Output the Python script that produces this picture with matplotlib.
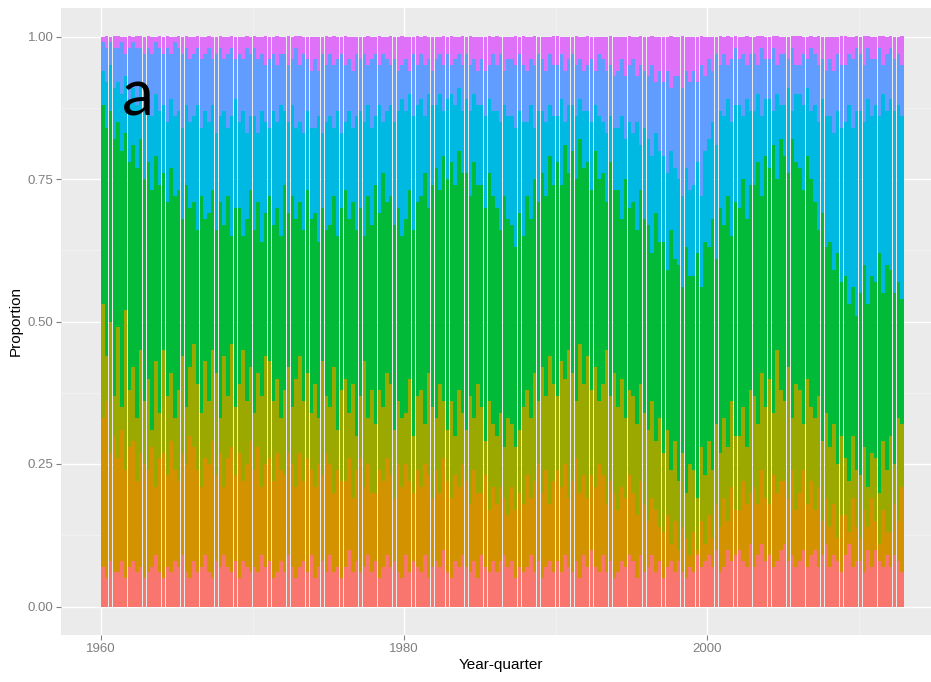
import numpy as np
import matplotlib
matplotlib.use("Agg")
import matplotlib.pyplot as plt
from matplotlib.ticker import FixedLocator

# ---------------- data (cumulative boundaries, percent; one line per year, Q1..Q4) ----------------
first_year = 1960
last_year = 2012

salmon_top = [
    7,5,8,6, 6,8,5,7, 8,6,7,5, 6,7,9,6, 5,7,6,8, 7,9,6,5, 8,6,7,9, 6,5,8,7, 9,7,6,8, 5,8,7,6,
    7,6,9,7, 8,5,6,8, 6,9,7,5, 7,8,6,9, 5,7,8,6, 9,6,7,5, 7,10,6,8, 6,7,9,6, 8,5,7,9, 7,8,6,5,
    9,6,8,7, 6,9,5,7, 8,7,10,6, 5,8,7,9, 7,6,8,5, 9,7,6,8, 6,8,9,7, 8,5,7,6, 7,9,6,8, 5,7,8,6,
    8,6,9,7, 6,8,5,9, 7,10,7,6, 9,6,8,5, 6,8,7,9, 8,5,9,6, 7,9,6,8, 5,7,8,6, 8,6,5,7, 6,9,7,8,
    9,7,10,6, 7,10,8,9, 10,8,7,11, 7,9,11,8, 9,7,8,10, 11,8,9,7, 8,10,7,9, 10,7,9,11, 7,9,8,6,
    9,11,7,8, 8,6,10,7, 10,8,7,9, 7,9,8,6,
]
orange_top = [
    33,36,27,30, 26,31,24,28, 29,22,27,25, 24,28,21,26, 27,23,29,24, 22,27,25,30, 28,24,21,26,
    25,29,23,27, 21,26,28,23, 27,22,25,29, 24,28,21,25, 26,22,27,24, 23,27,25,21, 27,22,26,24,
    21,25,23,27, 25,20,24,22, 22,26,19,24, 26,21,25,20, 20,24,22,26, 23,19,25,21, 25,22,20,24,
    21,25,23,19, 24,20,26,22, 19,23,21,25, 22,18,24,20, 20,23,17,21, 18,21,19,16, 21,17,20,18,
    23,19,22,25, 20,24,18,22, 24,21,25,19, 22,26,20,23, 19,23,21,25, 23,18,22,20, 17,21,19,23,
    20,16,22,18, 15,19,17,14, 13,16,11,15, 10,14,12,9, 13,10,15,11, 16,12,18,14, 19,15,21,17,
    17,22,18,20, 21,18,24,19, 18,23,20,22, 22,19,24,17, 20,24,18,22, 17,21,15,19, 14,18,12,16,
    16,13,19,14, 12,17,14,19, 15,11,17,13, 13,18,15,21,
]
olive_top = [
    53,44,50,37, 49,35,52,38, 42,33,45,36, 40,31,43,34, 45,37,41,33, 38,44,35,42, 46,39,34,43,
    36,45,41,33, 44,37,46,35, 39,45,36,42, 34,41,37,44, 43,36,40,33, 38,42,35,40, 44,36,41,34,
    39,33,43,37, 35,42,31,38, 40,34,39,30, 37,43,33,38, 32,38,35,41, 39,31,36,33, 34,40,30,37,
    38,32,41,35, 33,39,36,31, 36,30,38,34, 31,37,33,39, 35,29,36,32, 30,34,28,33, 32,28,31,35,
    38,33,41,36, 42,37,44,39, 37,43,40,45, 41,36,46,39, 44,38,42,36, 39,45,37,41, 35,40,33,38,
    37,32,39,34, 31,36,29,33, 27,31,24,29, 22,27,20,25, 24,19,28,23, 29,24,32,27, 33,28,36,30,
    30,35,28,38, 37,32,41,35, 40,34,45,38, 36,42,33,39, 38,32,40,35, 33,37,29,34, 28,32,25,30,
    26,22,30,24, 23,28,21,27, 26,20,29,24, 30,25,33,32,
]
green_top = [
    88,84,87,82, 85,80,83,78, 81,77,82,75, 78,73,79,74, 76,71,77,72, 73,68,74,70, 71,66,72,68,
    69,73,66,71, 67,72,65,70, 70,65,68,73, 66,71,64,69, 72,67,70,65, 74,69,72,68, 71,66,73,68,
    69,64,70,66, 67,72,65,70, 73,68,71,66, 70,65,72,67, 74,69,76,71, 72,67,70,65, 68,73,66,71,
    72,76,70,74, 77,73,79,75, 78,74,80,76, 76,72,78,74, 74,70,76,72, 70,66,72,68, 67,63,69,65,
    72,68,75,71, 76,72,79,74, 78,74,81,76, 80,75,82,77, 78,73,80,75, 76,71,78,73, 73,68,75,70,
    71,66,73,68, 67,62,69,64, 64,59,66,61, 60,56,63,58, 58,62,56,64, 63,68,61,70, 67,72,65,71,
    70,75,68,74, 74,78,72,79, 77,81,75,82, 79,76,82,78, 77,73,79,75, 71,66,69,63, 64,59,62,57,
    58,53,56,51, 55,60,53,58, 57,62,55,60, 59,55,57,54,
]
cyan_top = [
    94,92,95,91, 92,90,93,89, 91,88,92,87, 89,86,90,87, 88,85,89,86, 87,84,88,85, 86,88,84,87,
    85,88,83,86, 87,84,86,89, 85,87,83,86, 86,83,87,85, 84,87,85,88, 87,85,88,84, 85,83,87,84,
    84,86,83,85, 86,84,87,83, 85,87,84,86, 87,85,88,84, 86,88,85,87, 88,85,87,89, 87,90,86,88,
    89,86,90,88, 88,90,87,89, 90,88,91,87, 89,87,90,88, 88,86,89,87, 87,85,88,86, 86,84,87,85,
    85,88,84,87, 87,85,88,86, 86,89,85,88, 88,86,89,87, 87,85,88,86, 85,83,86,84, 84,86,82,85,
    83,85,81,84, 82,79,83,80, 79,76,80,77, 75,72,77,73, 74,78,72,80, 82,85,81,87, 86,89,85,88,
    88,86,89,87, 87,90,86,89, 89,87,90,88, 88,91,87,90, 90,88,91,87, 88,85,89,86, 86,83,87,84,
    85,88,84,87, 87,85,89,86, 88,86,90,87, 89,87,88,86,
]
blue_top = [
    99,98,99,98, 98,99,97,98, 99,98,98,97, 98,97,99,98, 97,98,97,99, 98,97,98,96, 97,98,96,97,
    98,96,97,98, 96,97,98,96, 97,96,98,97, 98,96,97,95, 96,97,95,97, 97,95,96,98, 95,97,96,94,
    96,94,97,95, 97,95,96,97, 95,96,94,97, 96,97,95,96, 97,95,97,96, 95,96,94,95, 96,94,97,95,
    97,95,96,94, 96,97,95,97, 95,96,97,95, 97,95,96,94, 96,94,95,97, 95,97,94,96, 96,95,97,95,
    94,96,95,97, 96,94,97,95, 95,97,94,96, 97,95,96,94, 95,96,94,97, 96,94,95,93, 94,96,93,95,
    96,93,95,94, 93,95,92,94, 92,94,91,93, 93,91,94,92, 94,92,95,93, 96,94,97,95, 97,95,96,98,
    96,97,95,97, 97,95,98,96, 96,98,95,97, 97,96,98,95, 95,97,96,98, 97,95,96,94, 96,94,97,95,
    95,97,96,98, 97,95,98,96, 96,98,95,97, 98,96,97,95,
]
magenta_top = [100] * len(blue_top)

colors = ["#F8766D", "#D39200", "#9AA800", "#00BA38", "#00B9E3", "#619CFF", "#DF70F8"]

# ---------------- figure ----------------
W, H, DPI = 931, 682, 100
fig = plt.figure(figsize=(W / DPI, H / DPI), dpi=DPI)
fig.patch.set_facecolor("white")

px_left, px_right, px_top, px_bottom = 61, 944, 8, 635
ax = fig.add_axes([px_left / W, 1 - px_bottom / H, (px_right - px_left) / W, (px_bottom - px_top) / H])
ax.set_facecolor("#EBEBEB")

n = len(salmon_top)
quarters = [f"{first_year + i // 4} Q{i % 4 + 1}" for i in range(n)]
x = np.array([int(q[:4]) + (int(q[-1]) - 1) * 0.25 + 0.125 for q in quarters])

layers = [salmon_top, orange_top, olive_top, green_top, cyan_top, blue_top, magenta_top]
prev = np.zeros(n)
for vals, c in zip(layers, colors):
    top = np.array(vals) / 100.0
    ax.bar(x, top - prev, bottom=prev, width=0.225, color=c, linewidth=0,
           antialiased=False, zorder=2)
    prev = top

ax.set_xlim(1957.36, 2015.64)
ax.set_ylim(-0.05, 1.05)

ax.xaxis.set_major_locator(FixedLocator([1960, 1980, 2000]))
ax.xaxis.set_minor_locator(FixedLocator([1970, 1990, 2010]))
ax.yaxis.set_major_locator(FixedLocator([0, 0.25, 0.5, 0.75, 1.0]))
ax.yaxis.set_minor_locator(FixedLocator([0.125, 0.375, 0.625, 0.875]))
ax.set_yticklabels(["0.00", "0.25", "0.50", "0.75", "1.00"])
ax.set_xticklabels(["1960", "1980", "2000"])

ax.grid(which="major", color="white", linewidth=1.0, zorder=0)
ax.grid(which="minor", color="#F5F5F5", linewidth=0.5, zorder=0)
ax.set_axisbelow(True)
for s in ax.spines.values():
    s.set_visible(False)

ax.tick_params(which="major", length=3.5, width=0.8, color="#7F7F7F",
               labelcolor="#7F7F7F", labelsize=9.5, pad=2)
ax.tick_params(which="minor", length=0)
for lab in ax.get_xticklabels() + ax.get_yticklabels():
    lab.set_family("Liberation Sans")

ax.set_xlabel("Year-quarter", fontsize=11, family="Liberation Sans")
ax.set_ylabel("Proportion", fontsize=11, family="Liberation Sans")
ax.xaxis.set_label_coords((501 - px_left) / (px_right - px_left), -(658 - px_bottom) / (px_bottom - px_top))
ax.yaxis.set_label_coords(-(px_left - 23) / (px_right - px_left), 0.5)

fig.text(138 / W, 1 - 97 / H, "a", fontsize=46, family="Lato", color="black",
         ha="center", va="center")

fig.savefig("out.png", dpi=DPI)
